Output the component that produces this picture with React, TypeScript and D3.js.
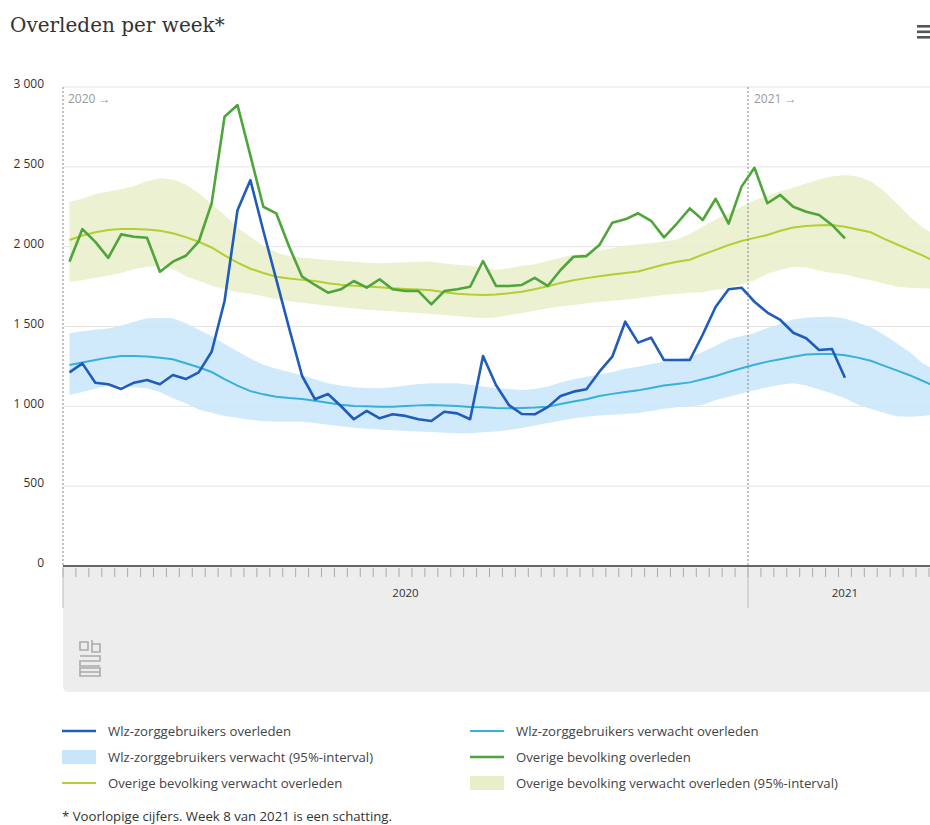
import React from 'react';
import * as d3 from 'd3';

// Week categories: 53 ISO weeks in 2020, then the first weeks of 2021
const weekLabels: string[] = [
  ...d3.range(1, 54).map(w => `2020 week ${w}`),
  ...d3.range(1, 16).map(w => `2021 week ${w}`),
];

const yTicks = [0, 500, 1000, 1500, 2000, 2500, 3000];

// Wlz-zorggebruikers overleden (2020 wk1 .. 2021 wk8)
const wlzObserved = [
  1213, 1269, 1148, 1138, 1109, 1148, 1165, 1138, 1196, 1171,
  1213, 1342, 1660, 2228, 2417, 2100, 1795, 1488, 1190, 1044,
  1077, 1002, 919, 971, 925, 950, 940, 919, 908, 966,
  956, 919, 1315, 1134, 1008, 952, 950, 995, 1065, 1092,
  1107, 1217, 1311, 1530, 1399, 1430, 1290, 1290, 1290, 1450,
  1624, 1733, 1743, 1655, 1587, 1541, 1461, 1426, 1353, 1359,
  1179,
];

// Overige bevolking overleden
const overigeObserved = [
  1906, 2110, 2030, 1930, 2077, 2062, 2056, 1843, 1906, 1943,
  2031, 2271, 2814, 2887, 2570, 2250, 2209, 2000, 1812, 1760,
  1712, 1733, 1785, 1743, 1796, 1733, 1722, 1722, 1639, 1722,
  1733, 1749, 1910, 1754, 1754, 1760, 1805, 1754, 1854, 1937,
  1941, 2010, 2150, 2171, 2209, 2162, 2058, 2145, 2240, 2167,
  2300, 2144, 2376, 2494, 2272, 2324, 2250, 2219, 2198, 2136,
  2052,
];

// Wlz-zorggebruikers verwacht overleden
const wlzExpected = [
  1259, 1275, 1290, 1305, 1315, 1315, 1312, 1305, 1295, 1270,
  1245, 1215, 1170, 1130, 1095, 1075, 1060, 1052, 1046, 1035,
  1022, 1010, 1002, 1000, 998, 998, 1002, 1006, 1008, 1005,
  1002, 996, 994, 990, 988, 990, 992, 998, 1015, 1030,
  1045, 1065, 1078, 1090, 1100, 1115, 1130, 1140, 1150, 1170,
  1190, 1215, 1238, 1260, 1280, 1295, 1310, 1325, 1328, 1328,
  1320, 1305, 1285, 1255, 1225, 1195, 1160, 1125,
];
const wlzUpper = [
  1457, 1470, 1480, 1488, 1505, 1530, 1551, 1555, 1551, 1520,
  1480, 1440, 1390, 1345, 1300, 1260, 1235, 1215, 1195, 1170,
  1145, 1130, 1120, 1115, 1113, 1120, 1130, 1140, 1144, 1144,
  1144, 1135, 1125, 1113, 1108, 1102, 1108, 1125, 1150, 1170,
  1186, 1200, 1215, 1235, 1248, 1265, 1280, 1295, 1311, 1340,
  1380, 1420, 1440, 1460, 1490, 1515, 1545, 1555, 1560, 1561,
  1550, 1525, 1495, 1450, 1395, 1340, 1270, 1230,
];
const wlzLower = [
  1071, 1090, 1110, 1130, 1130, 1120, 1113, 1090, 1050, 1020,
  980, 960, 940, 928, 915, 907, 904, 903, 904, 896,
  885, 875, 866, 860, 855, 850, 845, 843, 840, 835,
  832, 832, 838, 842, 852, 865, 880, 895, 910, 925,
  935, 942, 948, 952, 958, 970, 985, 995, 1000, 1008,
  1040, 1060, 1080, 1100, 1120, 1135, 1144, 1130, 1105, 1080,
  1050, 1010, 985, 960, 938, 935, 940, 946,
];

// Overige bevolking verwacht overleden
const overigeExpected = [
  2042, 2070, 2090, 2105, 2111, 2111, 2108, 2100, 2084, 2060,
  2031, 1995, 1945, 1900, 1862, 1835, 1812, 1800, 1792, 1785,
  1771, 1762, 1755, 1750, 1746, 1740, 1735, 1731, 1727, 1715,
  1705, 1700, 1697, 1700, 1708, 1718, 1733, 1752, 1772, 1790,
  1803, 1815, 1825, 1835, 1845, 1866, 1888, 1905, 1918, 1950,
  1980, 2010, 2035, 2055, 2073, 2100, 2120, 2130, 2134, 2136,
  2125, 2108, 2090, 2050, 2015, 1980, 1945, 1905,
];
const overigeUpper = [
  2282, 2300, 2330, 2345, 2360, 2380, 2410, 2428, 2420, 2390,
  2336, 2265, 2198, 2120, 2060, 2005, 1965, 1940, 1930, 1925,
  1916, 1910, 1905, 1900, 1896, 1900, 1903, 1906, 1905, 1895,
  1887, 1880, 1870, 1854, 1865, 1880, 1890, 1910, 1930, 1950,
  1958, 1975, 1990, 2005, 2015, 2022, 2032, 2045, 2080, 2125,
  2170, 2210, 2250, 2290, 2320, 2345, 2370, 2395, 2420, 2440,
  2449, 2440, 2410, 2350, 2270, 2190, 2120, 2075,
];
const overigeLower = [
  1781, 1790, 1805, 1820, 1835, 1860, 1875, 1878, 1860, 1815,
  1787, 1755, 1735, 1715, 1705, 1690, 1670, 1660, 1648, 1640,
  1630, 1620, 1612, 1605, 1600, 1595, 1590, 1585, 1578, 1572,
  1565, 1558, 1552, 1558, 1570, 1585, 1598, 1615, 1625, 1635,
  1645, 1655, 1662, 1668, 1677, 1688, 1698, 1705, 1712, 1715,
  1730, 1745, 1765, 1790, 1830, 1855, 1872, 1870, 1850, 1835,
  1825, 1805, 1790, 1770, 1750, 1742, 1739, 1738,
];

const COLORS = {
  wlz: '#1f5cbb',
  wlzExp: '#35b1db',
  wlzBand: '#c8e6fa',
  ovg: '#4ea53a',
  ovgExp: '#b3cf32',
  ovgBand: '#e7efc9',
};

const W = 930;
const H = 825;
const left = 63;
const top = 87;
const bottom = 566;
const weekW = (748 - left) / 53;

const sans = "'Open Sans', sans-serif";

const App: React.FC = () => {
  const x = d3.scaleBand<string>()
    .domain(weekLabels)
    .range([left, left + weekW * weekLabels.length])
    .padding(0);
  const y = d3.scaleLinear().domain([0, 3000]).range([bottom, top]);
  const cx = (i: number) => (x(weekLabels[i]) as number) + x.bandwidth() / 2;

  const line = d3.line<number>().x((_, i) => cx(i)).y(d => y(d));
  const band = (lo: number[], hi: number[]) =>
    d3.area<number>()
      .x((_, i) => cx(i))
      .y0((_, i) => y(lo[i]))
      .y1((_, i) => y(hi[i]))(lo) as string;

  const x2021 = x('2021 week 1') as number;

  const legend = [
    { label: 'Wlz-zorggebruikers overleden', type: 'line', color: COLORS.wlz, col: 0, row: 0, w: 2.5 },
    { label: 'Wlz-zorggebruikers verwacht overleden', type: 'line', color: COLORS.wlzExp, col: 1, row: 0, w: 2 },
    { label: 'Wlz-zorggebruikers verwacht (95%-interval)', type: 'rect', color: COLORS.wlzBand, col: 0, row: 1, w: 0 },
    { label: 'Overige bevolking overleden', type: 'line', color: COLORS.ovg, col: 1, row: 1, w: 2.5 },
    { label: 'Overige bevolking verwacht overleden', type: 'line', color: COLORS.ovgExp, col: 0, row: 2, w: 2 },
    { label: 'Overige bevolking verwacht overleden (95%-interval)', type: 'rect', color: COLORS.ovgBand, col: 1, row: 2, w: 0 },
  ];

  return (
    <div>
      <style>{`body{margin:0;background:#fff}`}</style>
      <svg width={W} height={H} style={{ display: 'block', fontFamily: sans }}>
        <defs>
          <clipPath id="plot">
            <rect x={left} y={top - 10} width={W - left} height={bottom - top + 10} />
          </clipPath>
        </defs>

        {/* title */}
        <text x={10} y={32} fontFamily="'DejaVu Serif', serif" fontSize={20} fill="#333">
          Overleden per week*
        </text>
        {/* menu icon */}
        <g fill="#555">
          <rect x={917} y={25} width={16} height={2.6} />
          <rect x={917} y={30.5} width={16} height={2.6} />
          <rect x={917} y={36} width={16} height={2.6} />
        </g>

        {/* grid */}
        {yTicks.filter(t => t > 0).map(t => (
          <line key={t} x1={left} x2={W} y1={y(t)} y2={y(t)} stroke="#e4e4e4" strokeWidth={1} />
        ))}
        {yTicks.map(t => (
          <text key={t} x={44} y={y(t)} dy="0.1em" textAnchor="end" fontSize={12} fill="#333">
            {t === 0 ? '0' : d3.format(',')(t).replace(',', ' ')}
          </text>
        ))}

        {/* axis panel */}
        <path
          d={`M${left},${bottom + 1}H${W}V692H${left + 6}Q${left},692 ${left},686Z`}
          fill="#ededed"
        />
        {weekLabels.map(w => (
          <line key={w} x1={x(w)} x2={x(w)} y1={bottom + 2} y2={bottom + 11} stroke="#aaa" strokeWidth={1} />
        ))}
        <line x1={left} x2={left} y1={bottom} y2={608} stroke="#bbb" />
        <line x1={x2021} x2={x2021} y1={bottom} y2={608} stroke="#bbb" />
        <text x={(left + x2021) / 2} y={597} textAnchor="middle" fontSize={11.5} fill="#333">2020</text>
        <text x={cx(60)} y={597} textAnchor="middle" fontSize={11.5} fill="#333">2021</text>

        {/* cbs logo */}
        <g fill="none" stroke="#aaa" strokeWidth={1.6}>
          <path d="M80,642 h8 v8 h-8 z M80,650 h8" />
          <path d="M92,640 v12 h8 v-8 h-8" />
          <path d="M80,656 h20 v5 h-20 v5 h20" />
          <path d="M80,668 h20 v8 h-20 z M80,672 h20" />
        </g>

        {/* data */}
        <g clipPath="url(#plot)">
          <path d={band(wlzLower, wlzUpper)} fill={COLORS.wlzBand} opacity={0.85} />
          <path d={band(overigeLower, overigeUpper)} fill={COLORS.ovgBand} opacity={0.85} />
          <path d={line(wlzExpected) as string} fill="none" stroke={COLORS.wlzExp} strokeWidth={2} />
          <path d={line(overigeExpected) as string} fill="none" stroke={COLORS.ovgExp} strokeWidth={2} />
          <path d={line(overigeObserved) as string} fill="none" stroke={COLORS.ovg} strokeWidth={2.6} strokeLinejoin="round" />
          <path d={line(wlzObserved) as string} fill="none" stroke={COLORS.wlz} strokeWidth={2.6} strokeLinejoin="round" />
        </g>

        {/* year plot lines */}
        <line x1={left} x2={left} y1={top} y2={bottom} stroke="#888" strokeDasharray="2,2" />
        <line x1={x2021} x2={x2021} y1={top} y2={bottom} stroke="#888" strokeDasharray="2,2" />
        <text x={left + 5} y={103} fontSize={12} fill="#999">2020 →</text>
        <text x={x2021 + 6} y={103} fontSize={12} fill="#999">2021 →</text>

        {/* x axis line */}
        <line x1={left} x2={W} y1={bottom} y2={bottom} stroke="#666" strokeWidth={2} />

        {/* legend */}
        {legend.map(d => {
          const lx = d.col === 0 ? 62 : 470;
          const ly = 731 + d.row * 26;
          return (
            <g key={d.label}>
              {d.type === 'line'
                ? <line x1={lx} x2={lx + 34} y1={ly} y2={ly} stroke={d.color} strokeWidth={d.w} />
                : <rect x={lx} y={ly - 7} width={34} height={14} fill={d.color} />}
              <text x={lx + 46} y={ly} dy="0.35em" fontSize={13.2} fill="#444">
                {d.label}
              </text>
            </g>
          );
        })}
        <text x={62} y={816} dy="0.35em" fontSize={13.2} fill="#333">
          * Voorlopige cijfers. Week 8 van 2021 is een schatting.
        </text>
      </svg>
    </div>
  );
};

export default App;
